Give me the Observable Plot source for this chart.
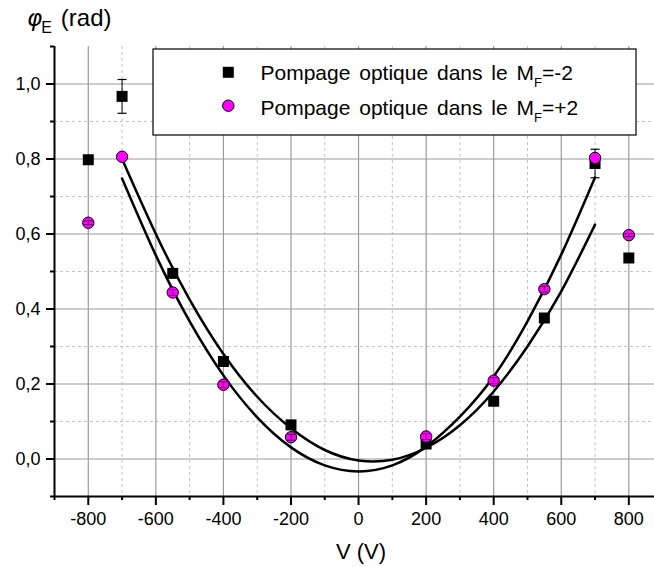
<!DOCTYPE html>
<html>
<head>
<meta charset="utf-8">
<script src="https://cdn.jsdelivr.net/npm/d3@7"></script>
<script src="https://cdn.jsdelivr.net/npm/@observablehq/plot@0.6"></script>
<style>
  html, body { margin: 0; padding: 0; background: #fff; }
  #chart { width: 654px; height: 567px; }
</style>
</head>
<body>
<div id="chart"></div>
<script>
// ---- data ----
const voltages = [-800, -700, -550, -400, -200, 200, 400, 550, 700, 800];
const phiMFm2 = [0.798, 0.967, 0.495, 0.260, 0.091, 0.040, 0.154, 0.376, 0.788, 0.536];
const errMFm2 = [0, 0.045, 0, 0, 0, 0, 0, 0, 0.038, 0];
const phiMFp2 = [0.630, 0.806, 0.444, 0.198, 0.058, 0.060, 0.209, 0.453, 0.803, 0.597];
const errMFp2 = [0.005, 0, 0.008, 0.008, 0.008, 0.008, 0.008, 0.008, 0, 0.004];

// fitted curves
const fitV     = [-700, -600, -500, -400, -300, -200, -100, 0, 100, 200, 300, 400, 500, 600, 700];
const fitMFm2  = [0.800, 0.600, 0.425, 0.280, 0.166, 0.082, 0.024, -0.004, -0.002, 0.030, 0.090, 0.180, 0.300, 0.447, 0.625];
const fitMFp2  = [0.748, 0.543, 0.367, 0.223, 0.111, 0.031, -0.017, -0.033, -0.017, 0.033, 0.113, 0.220, 0.367, 0.545, 0.751];

const xMajorTicks = [-800, -600, -400, -200, 0, 200, 400, 600, 800];
const xMinorTicks = [-900, -700, -500, -300, -100, 100, 300, 500, 700];
const yMajorTicks = [0.0, 0.2, 0.4, 0.6, 0.8, 1.0];
const yMinorTicks = [-0.1, 0.1, 0.3, 0.5, 0.7, 0.9, 1.1];

const legendLabels = ["Pompage optique dans le M", "Pompage optique dans le M"];
const legendSub = ["F", "F"];
const legendTail = ["=-2", "=+2"];

// ---- tables ----
const ptsA = voltages.map((v, i) => ({V: v, phi: phiMFm2[i], err: errMFm2[i]}));
const ptsB = voltages.map((v, i) => ({V: v, phi: phiMFp2[i], err: errMFp2[i]}));
const fitA = fitV.map((v, i) => ({V: v, phi: fitMFm2[i]}));
const fitB = fitV.map((v, i) => ({V: v, phi: fitMFp2[i]}));
const errA = ptsA.filter(d => d.err > 0);
const errB = ptsB.filter(d => d.err > 0);

const capSymbol = { draw(ctx) { ctx.moveTo(-4.5, 0); ctx.lineTo(4.5, 0); } };
const fmtY = d => d.toFixed(1).replace(".", ",");

const svg = Plot.plot({
  width: 654,
  height: 567,
  marginTop: 46,
  marginBottom: 71,
  marginLeft: 54,
  marginRight: 0,
  style: { fontFamily: "'Liberation Sans', Arial, sans-serif", fontSize: "18px", background: "white", color: "black" },
  x: { domain: [-900, 876] },
  y: { domain: [-0.1, 1.1] },
  marks: [
    Plot.ruleX(xMinorTicks.filter(d => d > -900), { stroke: "#c4c4c4", strokeDasharray: "3,3", strokeWidth: 1 }),
    Plot.ruleY(yMinorTicks.filter(d => d > -0.1 && d < 1.1), { stroke: "#c4c4c4", strokeDasharray: "3,3", strokeWidth: 1 }),
    Plot.ruleX(xMajorTicks, { stroke: "#9a9a9a", strokeWidth: 1.2 }),
    Plot.ruleY(yMajorTicks, { stroke: "#9a9a9a", strokeWidth: 1.2 }),
    Plot.line(fitA, { x: "V", y: "phi", curve: "natural", stroke: "black", strokeWidth: 2.5 }),
    Plot.line(fitB, { x: "V", y: "phi", curve: "natural", stroke: "black", strokeWidth: 2.5 }),
    Plot.dot(ptsA, { x: "V", y: "phi", symbol: "square", r: 6.2, fill: "black" }),
    Plot.ruleX(errA, { x: "V", y1: d => d.phi - d.err, y2: d => d.phi + d.err, stroke: "black", strokeWidth: 1 }),
    Plot.dot(errA, { x: "V", y: d => d.phi - d.err, symbol: capSymbol, r: 4, stroke: "black", strokeWidth: 1.2 }),
    Plot.dot(errA, { x: "V", y: d => d.phi + d.err, symbol: capSymbol, r: 4, stroke: "black", strokeWidth: 1.2 }),
    Plot.dot(ptsB, { x: "V", y: "phi", symbol: "circle", r: 5.7, fill: "#ff00ff", stroke: "black", strokeWidth: 1 }),
    Plot.ruleX(errB, { x: "V", y1: d => d.phi - d.err, y2: d => d.phi + d.err, stroke: "#551155", strokeWidth: 1 }),
    Plot.dot(errB, { x: "V", y: d => d.phi - d.err, symbol: capSymbol, r: 4, stroke: "#551155", strokeWidth: 1 }),
    Plot.dot(errB, { x: "V", y: d => d.phi + d.err, symbol: capSymbol, r: 4, stroke: "#551155", strokeWidth: 1 }),
    Plot.axisX(xMajorTicks, { anchor: "bottom", tickSize: 9, tickPadding: 7, strokeWidth: 2, tickFormat: d => String(d), label: null, fontSize: 18 }),
    Plot.axisX(xMinorTicks, { anchor: "bottom", tickSize: 4, tickFormat: () => "", strokeWidth: 2, label: null }),
    Plot.axisY(yMajorTicks, { anchor: "left", tickSize: 8, tickPadding: 6, strokeWidth: 2, tickFormat: fmtY, label: null, fontSize: 18 }),
    Plot.axisY(yMinorTicks, { anchor: "left", tickSize: 4, tickFormat: () => "", strokeWidth: 2, label: null }),
    Plot.ruleX([-900], { stroke: "black", strokeWidth: 2 }),
    Plot.ruleY([-0.1], { stroke: "black", strokeWidth: 2 })
  ]
});

document.getElementById("chart").appendChild(svg);

// ---- titles and legend ----
const s = d3.select(svg);
const ff = "'Liberation Sans', Arial, sans-serif";

const yl = s.append("text").attr("x", 27).attr("y", 26).attr("text-anchor", "start")
  .attr("font-family", ff).attr("font-size", 24).attr("fill", "black");
yl.append("tspan").attr("font-style", "italic").attr("font-family", "'DejaVu Sans', sans-serif").attr("font-size", 23).text("φ");
yl.append("tspan").attr("font-size", 16).attr("dy", 7).attr("dx", -1).text("E");
yl.append("tspan").attr("dy", -7).attr("dx", 9).text("(rad)");

s.append("text").attr("x", 361).attr("y", 559).attr("text-anchor", "middle")
  .attr("font-family", ff).attr("font-size", 22).attr("fill", "black").text("V (V)");

const lg = s.append("g");
lg.append("rect").attr("x", 153).attr("y", 49).attr("width", 483).attr("height", 86)
  .attr("fill", "white").attr("stroke", "black").attr("stroke-width", 1.2);
lg.append("rect").attr("x", 228.3 - 5.5).attr("y", 72.3 - 5.5).attr("width", 11).attr("height", 11).attr("fill", "black");
lg.append("circle").attr("cx", 228.3).attr("cy", 105.7).attr("r", 5.7).attr("fill", "#ff00ff").attr("stroke", "black");
[79.5, 114.5].forEach((by, i) => {
  const t = lg.append("text").attr("x", 260.5).attr("y", by).attr("text-anchor", "start")
    .attr("font-family", ff).attr("font-size", 21).attr("fill", "black").attr("word-spacing", "3px");
  t.append("tspan").text(legendLabels[i]);
  t.append("tspan").attr("font-size", 13).attr("dy", 7).text(legendSub[i]);
  t.append("tspan").attr("dy", -7).text(legendTail[i]);
});
</script>
</body>
</html>
